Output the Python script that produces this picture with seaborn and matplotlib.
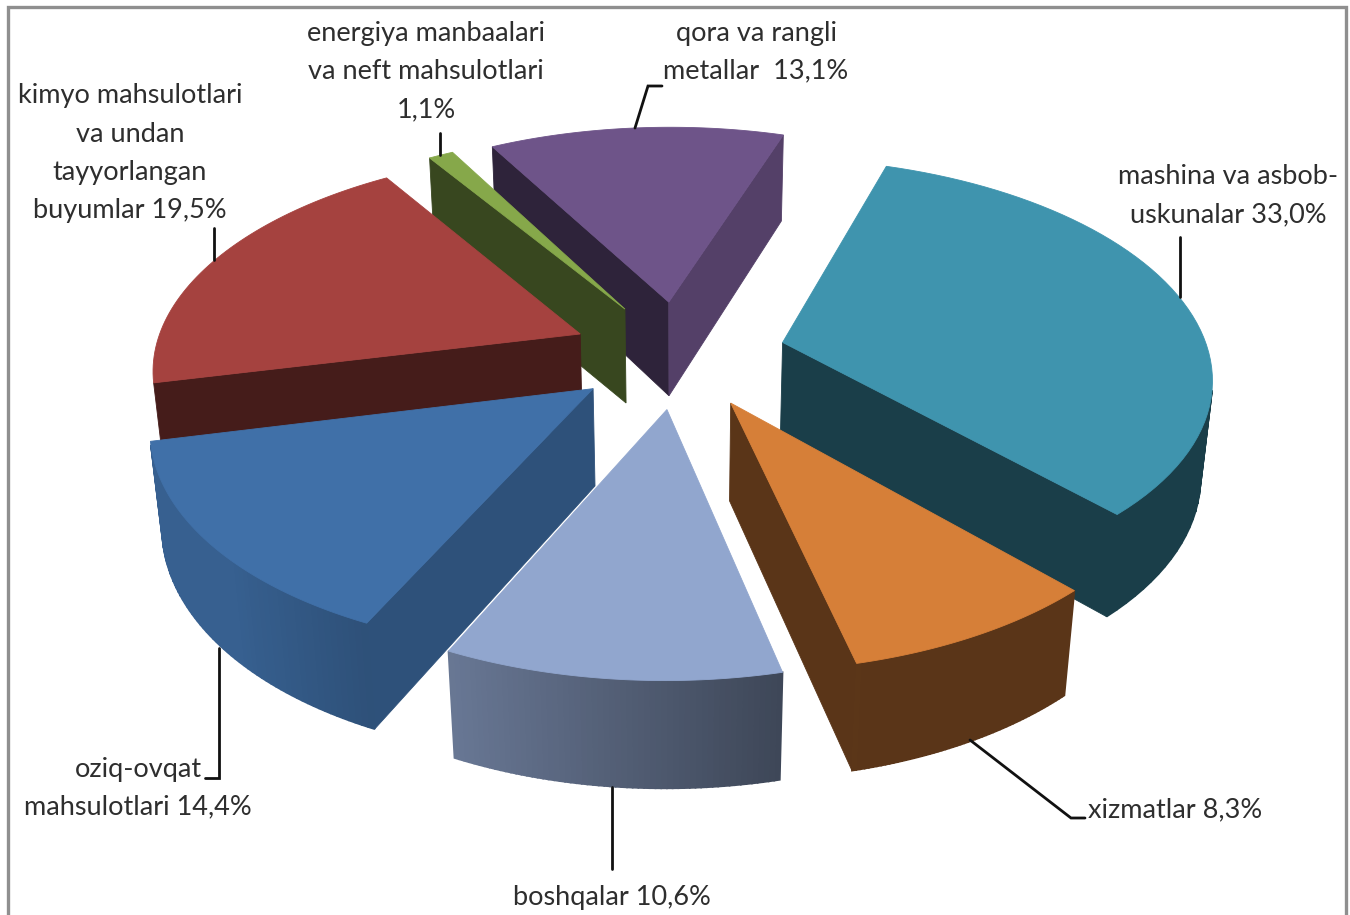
import matplotlib
matplotlib.use("Agg")
import matplotlib.pyplot as plt
import seaborn as sns
import numpy as np
from matplotlib.colors import to_rgb

# ---------------------------------------------
# DATA
# ---------------------------------------------
labels = [
    "mashina va asbob-\nuskunalar 33,0%",
    "xizmatlar 8,3%",
    "boshqalar 10,6%",
    "oziq-ovqat\nmahsulotlari 14,4%",
    "kimyo mahsulotlari\nva undan\ntayyorlangan\nbuyumlar 19,5%",
    "energiya manbaalari\nva neft mahsulotlari\n1,1%",
    "qora va rangli\nmetallar  13,1%",
]
values = [33.0, 8.3, 10.6, 14.4, 19.5, 1.1, 13.1]
top_colors = ["#3F94AE", "#D67F38", "#91A6CE", "#4070A8", "#A5423F", "#86A84A", "#6E5489"]

# ---------------------------------------------
# CAMERA AND LAYOUT
# ---------------------------------------------
CX, CY, SCALE = 678.5, 353.9, 426.3
TILT, CAM_DIST = 0.5258, 5.98
THICK = 0.2657
START = 0.3176
EXPLODE = 0.252

label_xy = [(1228, 177), (1175, 810), (612, 898), (138, 769), (130, 96), (426, 33), (756, 33)]
leaders = [
    [(1180, 297), (1180, 237)],
    [(970, 740), (1071, 818), (1085, 818)],
    [(612, 787), (612, 869)],
    [(219, 648), (219, 778), (205, 778)],
    [(214, 260), (214, 228)],
    [(440, 155), (440, 133)],
    [(635, 128), (648, 86), (662, 86)],
]
LINE_PITCH = 38.3
back_to_front = [6, 5, 4, 0, 3, 1, 2]

frac = np.array(values) / sum(values) * 2 * np.pi
edges = START + np.concatenate([[0], np.cumsum(frac)])


def project(x, y, z):
    up = y * np.sin(TILT) + z * np.cos(TILT)
    toward = -y * np.cos(TILT) + z * np.sin(TILT)
    s = CAM_DIST / (CAM_DIST - toward)
    return CX + SCALE * x * s, CY - SCALE * up * s


def slice_point(i, r, theta, z):
    mid = (edges[i] + edges[i + 1]) / 2
    x = r * np.sin(theta) + EXPLODE * np.sin(mid)
    y = r * np.cos(theta) + EXPLODE * np.cos(mid)
    return project(x, y, z)


def area(q):
    q = np.array(q)
    return 0.5 * np.sum(q[:, 0] * np.roll(q[:, 1], -1) - np.roll(q[:, 0], -1) * q[:, 1])


def rim_shade(theta):
    return np.clip(0.53 - 0.45 * np.sin(theta), 0.42, 0.86)


def cut_shade(normal):
    return max(0.42, 0.8 * np.sin(normal))


# ---------------------------------------------
# DRAW
# ---------------------------------------------
sns.set_theme(style="white")
plt.rcParams["font.family"] = ["Lato", "DejaVu Sans"]

fig = plt.figure(figsize=(13.5, 9.15), dpi=100)
ax = fig.add_axes([0, 0, 1, 1])
ax.set_xlim(0, 1350)
ax.set_ylim(915, 0)
ax.axis("off")

ax.plot([8, 8, 1346, 1346], [915, 7, 7, 915], color="#8F8F8F", lw=2.4, solid_joinstyle="miter")

for i in back_to_front:
    base = np.array(to_rgb(top_colors[i]))
    th = np.linspace(edges[i], edges[i + 1], 60)
    rim_top = [slice_point(i, 1, a, 0) for a in th]
    rim_bot = [slice_point(i, 1, a, -THICK) for a in th]
    apex = slice_point(i, 0, 0, 0)
    apex_bot = slice_point(i, 0, 0, -THICK)
    top = [apex] + rim_top
    sign = np.sign(area(top))

    faces = [
        ([apex, apex_bot, rim_bot[0], rim_top[0]], edges[i] - np.pi / 2),
        ([rim_top[-1], rim_bot[-1], apex_bot, apex], edges[i + 1] + np.pi / 2),
    ]
    for q, normal in faces:
        if np.sign(area(q)) == sign:
            ax.fill(*zip(*q), color=base * cut_shade(normal), lw=0.6)

    for j in range(len(th) - 1):
        q = [rim_top[j], rim_bot[j], rim_bot[j + 1], rim_top[j + 1]]
        if np.sign(area(q)) == sign:
            ax.fill(*zip(*q), color=base * rim_shade(th[j]), lw=1.2)

    ax.fill(*zip(*top), color=base, lw=0.6)

for path in leaders:
    ax.plot(*zip(*path), color="#111111", lw=2.0, solid_joinstyle="miter")

for label, (x, y) in zip(labels, label_xy):
    for k, line in enumerate(label.split("\n")):
        ax.text(x, y + k * LINE_PITCH, line, ha="center", va="center", fontsize=19.5, color="#2E2E2E")

fig.savefig("out.png", dpi=100)
